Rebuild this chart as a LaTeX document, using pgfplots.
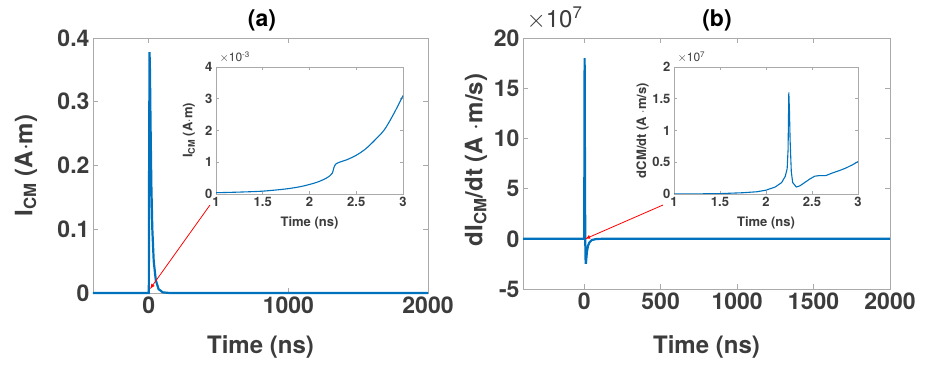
\documentclass[border=0pt]{standalone}
\usepackage{fontspec}
\setmainfont{TeX Gyre Heros}
\usepackage{pgfplots}
\pgfplotsset{compat=1.18}
\definecolor{mblue}{RGB}{0,114,189}
\definecolor{tgray}{RGB}{60,60,60}
\definecolor{agray}{RGB}{170,170,170}
\pgfplotsset{
  mstyle/.style={
    scale only axis, anchor=south west,
    /pgf/number format/assume math mode=true,
    scaled ticks=false,
    tick align=inside,
    axis line style={agray, line width=0.8pt},
    every tick/.style={agray, line width=0.8pt},
    major tick length=5pt,
    tick label style={text=tgray},
    label style={text=tgray},
    axis background/.style={fill=white},
  },
  bigfont/.style={
    tick label style={font=\fontsize{23}{23}\selectfont\bfseries},
    label style={font=\fontsize{24}{24}\selectfont\bfseries},
  },
  smallfont/.style={
    tick label style={font=\fontsize{13}{13}\selectfont\bfseries},
    xlabel style={font=\fontsize{13}{13}\selectfont\bfseries},
    ylabel style={font=\fontsize{13}{13}\selectfont\bfseries},
    major tick length=3pt,
  },
}
\begin{document}
\begin{tikzpicture}
% ---------------- Panel (a) ----------------
\begin{axis}[mstyle, bigfont,
  at={(93pt,73pt)}, width=335pt, height=255pt,
  xmin=-400, xmax=2000, ymin=0, ymax=0.4,
  xtick={0,1000,2000}, xticklabels={0,1000,2000},
  ytick={0,0.1,0.2,0.3,0.4}, yticklabels={0,0.1,0.2,0.3,0.4},
  xlabel={Time (ns)}, ylabel={I\textsubscript{CM} (A$\cdot$m)},
  xlabel style={at={(axis description cs:0.5,-0.21)}, anchor=center},
  ylabel style={at={(axis description cs:-0.2,0.5)}, anchor=center},
  clip=false]
\addplot[mblue, line width=2.2pt] coordinates {
(-400,0) (0,0) (2,0.2) (5,0.378) (8,0.35) (12,0.27) (18,0.17) (25,0.1)
(35,0.05) (50,0.02) (70,0.006) (100,0.001) (150,0) (2000,0)};
\end{axis}
% inset (a)
\begin{axis}[mstyle, smallfont,
  at={(216pt,172pt)}, width=187pt, height=127pt,
  xmin=1, xmax=3, ymin=0, ymax=4,
  xtick={1,1.5,2,2.5,3}, xticklabels={1,1.5,2,2.5,3},
  ytick={0,1,2,3,4}, yticklabels={0,1,2,3,4},
  xlabel={Time (ns)}, ylabel={I\textsubscript{CM} (A$\cdot$m)},
  xlabel style={at={(axis description cs:0.5,-0.228)}, anchor=center},
  ylabel style={at={(axis description cs:-0.145,0.5)}, anchor=center}]
\addplot[mblue, line width=1.1pt, smooth] coordinates {
(1,0.04) (1.25,0.06) (1.5,0.09) (1.75,0.16) (1.9,0.23) (2.0,0.3) (2.1,0.39)
(2.18,0.5) (2.22,0.58) (2.245,0.66) (2.26,0.82) (2.28,0.94) (2.32,1.0)
(2.4,1.08) (2.5,1.22) (2.6,1.42) (2.7,1.7) (2.8,2.02) (2.9,2.52) (3.0,3.1)};
\end{axis}
% ---------------- Panel (b) ----------------
\begin{axis}[mstyle, bigfont,
  at={(523pt,77pt)}, width=367pt, height=251pt,
  xmin=-400, xmax=2000, ymin=-5, ymax=20,
  xtick={0,500,1000,1500,2000}, xticklabels={0,500,1000,1500,2000},
  ytick={-5,0,5,10,15,20}, yticklabels={-5,0,5,10,15,20},
  xlabel={Time (ns)}, ylabel={dI\textsubscript{CM}/dt (A $\cdot$m/s)},
  xlabel style={at={(axis description cs:0.5,-0.231)}, anchor=center},
  ylabel style={at={(axis description cs:-0.128,0.514)}, anchor=center}]
\addplot[mblue, line width=2.2pt] coordinates {
(-400,0) (0,0) (1,5) (3,18) (5,8) (7,0) (9,-2.0) (11,-2.5) (14,-2.0)
(18,-1.3) (25,-0.7) (35,-0.35) (50,-0.12) (80,-0.02) (120,0) (2000,0)};
\end{axis}
% inset (b)
\begin{axis}[mstyle, smallfont,
  at={(674pt,172pt)}, width=184pt, height=127pt,
  xmin=1, xmax=3, ymin=0, ymax=2,
  xtick={1,1.5,2,2.5,3}, xticklabels={1,1.5,2,2.5,3},
  ytick={0,0.5,1,1.5,2}, yticklabels={0,0.5,1,1.5,2},
  xlabel={Time (ns)}, ylabel={dCM/dt (A $\cdot$m/s)},
  xlabel style={at={(axis description cs:0.5,-0.228)}, anchor=center},
  ylabel style={at={(axis description cs:-0.17,0.5)}, anchor=center}]
\addplot[mblue, line width=1.1pt] coordinates {
(1,0.0) (1.25,0.002) (1.5,0.006) (1.75,0.02) (1.9,0.035) (2.0,0.06) (2.1,0.11)
(2.17,0.18) (2.21,0.28) (2.23,0.4) (2.24,0.7) (2.248,1.6) (2.255,1.3) (2.262,0.85)
(2.275,0.35) (2.29,0.18) (2.33,0.11) (2.37,0.13) (2.42,0.18) (2.48,0.24)
(2.53,0.28) (2.58,0.29) (2.65,0.29) (2.72,0.33) (2.8,0.37) (2.87,0.41)
(2.94,0.46) (3.0,0.51)};
\end{axis}
% multipliers and titles
\node[anchor=south west, text=tgray, font=\fontsize{24}{24}\selectfont] at (523pt,333pt) {$\times$10\textsuperscript{7}};
\node[anchor=south west, text=tgray, font=\fontsize{12}{12}\selectfont] at (216pt,300pt) {$\times$10\textsuperscript{-3}};
\node[anchor=south west, text=tgray, font=\fontsize{12}{12}\selectfont] at (674pt,300pt) {$\times$10\textsuperscript{7}};
\node[text=black, font=\fontsize{23}{23}\selectfont\bfseries] at (262pt,346pt) {(a)};
\node[text=black, font=\fontsize{23}{23}\selectfont\bfseries] at (717pt,346pt) {(b)};
% arrows
\draw[red, line width=0.8pt, -latex] (210pt,161pt) -- (150pt,77pt);
\draw[red, line width=0.8pt, -latex] (663pt,161pt) -- (585pt,127pt);
\pgfresetboundingbox
\path (0,0) rectangle (930pt,366pt);
\end{tikzpicture}
\end{document}
